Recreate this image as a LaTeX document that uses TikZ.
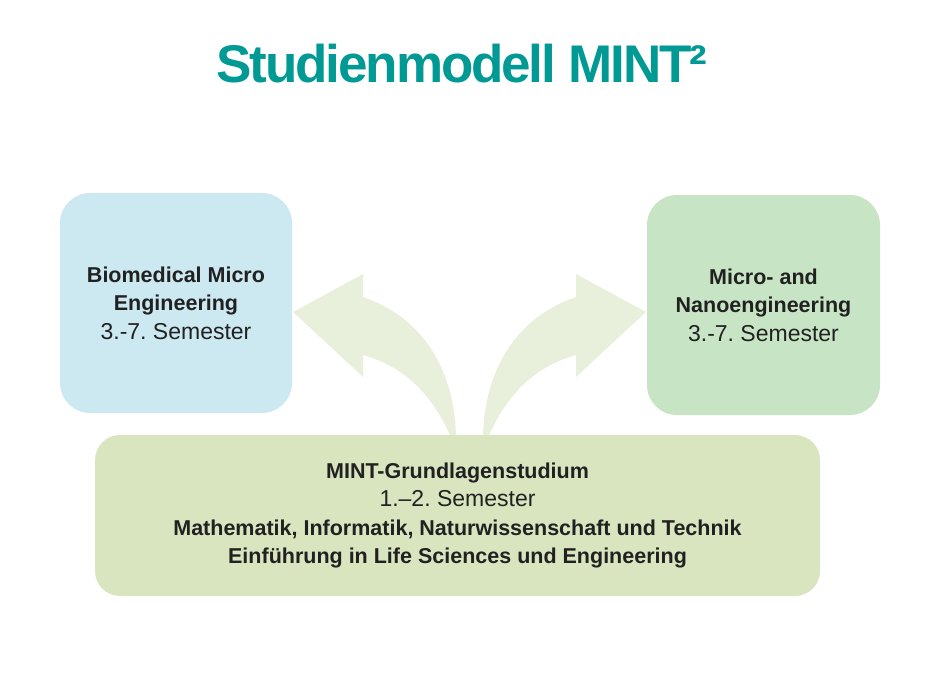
\documentclass[tikz,border=0pt]{standalone}
\usepackage{fontspec}
\setmainfont{Liberation Sans}
\newfontfamily\titlefont[LetterSpace=-4]{Liberation Sans}
\frenchspacing
\tikzset{box/.style = {rounded corners = 30pt, align = center, text = mtext, inner sep = 0, font = \fontsize{21.5}{28.5}\selectfont\bfseries}}
\definecolor{mteal}{rgb}{0, 0.6, 0.58}
\definecolor{mblue}{rgb}{0.8, 0.91, 0.94}
\definecolor{mgreen}{rgb}{0.78, 0.9, 0.77}
\definecolor{molive}{rgb}{0.85, 0.9, 0.75}
\definecolor{marrow}{rgb}{0.91, 0.94, 0.86}
\definecolor{mtext}{rgb}{0.13, 0.13, 0.13}
\newcommand{\semline}[1]{{\fontsize{23}{28.5}\selectfont\mdseries #1}}

\begin{document}
\begin{tikzpicture}[x=1pt, y=-1pt]
      \useasboundingbox (0, 0) rectangle (930, 695);

      \node (title) [font = \titlefont\bfseries\fontsize{53}{60}\selectfont, text = mteal] at (462, 64) {Studienmodell MINT²};

      \fill [marrow] (293, 312) -- (363, 274) -- (363, 297) .. controls (430, 320) and (456, 380) .. (456, 440) -- (452, 440) .. controls (432, 392) and (402, 366) .. (363, 355) -- (363, 377) -- cycle;
      \fill [marrow] (646, 312) -- (576, 274) -- (576, 297) .. controls (509, 320) and (483, 380) .. (483, 440) -- (487, 440) .. controls (507, 392) and (537, 366) .. (576, 355) -- (576, 377) -- cycle;

      \node (bme) [box, fill = mblue, minimum width = 232pt, minimum height = 220pt] at (176, 303) {Biomedical Micro\\Engineering\\\semline{3.-7. Semester}};
      \node (mne) [box, fill = mgreen, minimum width = 233pt, minimum height = 220pt] at (763.5, 305) {Micro- and\\Nanoengineering\\\semline{3.-7. Semester}};
      \node (base) [box, rounded corners = 25pt, fill = molive, minimum width = 725pt, minimum height = 161pt] at (457.5, 515.5) {MINT-Grundlagenstudium\\\semline{1.–2. Semester}\\Mathematik, Informatik, Naturwissenschaft und Technik\\Einführung in Life Sciences und Engineering};
    \end{tikzpicture}
\end{document}
